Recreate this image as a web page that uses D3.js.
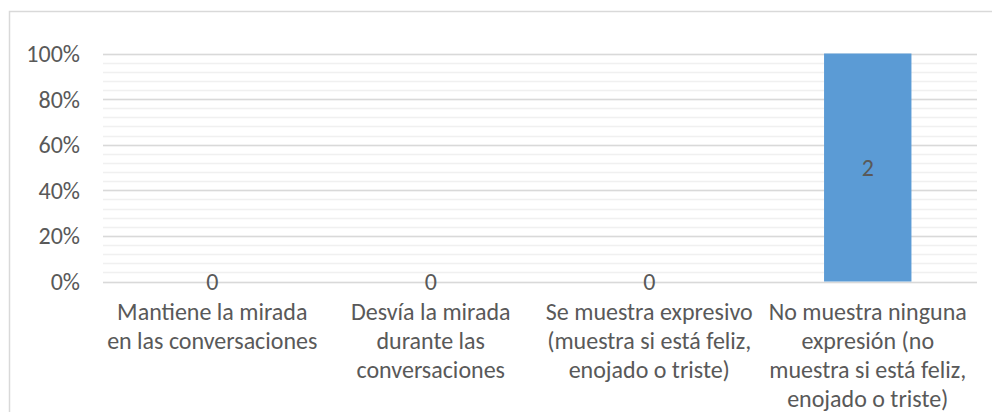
<!DOCTYPE html>
<html>
<head>
<meta charset="utf-8">
<script src="https://cdn.jsdelivr.net/npm/d3@7"></script>
<style>
  body { margin: 0; background: #fff; }
  text { font-family: Carlito, Calibri, Lato, sans-serif; fill: #595959; }
</style>
</head>
<body>
<div id="chart"></div>
<script>
// categories, each already split the way the reference wraps it
const categories = [
	["Mantiene la mirada", "en las conversaciones"],
	["Desvía la mirada", "durante las", "conversaciones"],
	["Se muestra expresivo", "(muestra si está feliz,", "enojado o triste)"],
	["No muestra ninguna", "expresión (no", "muestra si está feliz,", "enojado o triste)"]
];
const values = [0, 0, 0, 2];
const yTicks = [0, 0.2, 0.4, 0.6, 0.8, 1];
const minorTicks = d3.range(0, 1.0001, 0.04);

const width = 992, height = 412;
const margin = { left: 103, right: 15, top: 53.5, bottom: 130.5 };

const svg = d3.select("#chart")
	.append("svg")
	.attr("width", width)
	.attr("height", height);

// chart area border (cropped on right and bottom)
svg.append("rect")
	.attr("x", 9.5)
	.attr("y", 11.5)
	.attr("width", 1000)
	.attr("height", 500)
	.attr("fill", "none")
	.attr("stroke", "#d9d9d9")
	.attr("stroke-width", 1.5);

const x = d3.scaleBand()
	.domain(d3.range(categories.length))
	.range([margin.left, width - margin.right])
	.paddingInner(0.6)
	.paddingOuter(0.3);

const y = d3.scaleLinear()
	.domain([0, 1])
	.range([height - margin.bottom, margin.top]);

// 100% stacked: single series, share of category total
const pct = values.map(v => v > 0 ? v / v : 0);

const plotLeft = margin.left, plotRight = width - margin.right;

svg.append("g").selectAll("line")
	.data(minorTicks)
	.enter()
	.append("line")
	.attr("x1", plotLeft).attr("x2", plotRight)
	.attr("y1", d => Math.round(y(d)) + 0.5)
	.attr("y2", d => Math.round(y(d)) + 0.5)
	.attr("stroke", "#f0f0f0")
	.attr("stroke-width", 1.5);

svg.append("g").selectAll("line")
	.data(yTicks)
	.enter()
	.append("line")
	.attr("x1", plotLeft).attr("x2", plotRight)
	.attr("y1", d => Math.round(y(d)) + 0.5)
	.attr("y2", d => Math.round(y(d)) + 0.5)
	.attr("stroke", "#d9d9d9")
	.attr("stroke-width", 1.5);

svg.append("g").selectAll("text")
	.data(yTicks)
	.enter()
	.append("text")
	.attr("x", 80)
	.attr("y", d => y(d))
	.attr("dy", "0.35em")
	.attr("text-anchor", "end")
	.style("font-size", "24px")
	.text(d => d3.format(".0%")(d));

// bars
svg.append("g").selectAll("rect")
	.data(pct)
	.enter()
	.append("rect")
	.attr("x", (d, i) => x(i))
	.attr("width", x.bandwidth())
	.attr("y", d => y(d))
	.attr("height", d => y(0) - y(d))
	.attr("fill", "#5b9bd5");

// value labels
svg.append("g").selectAll("text")
	.data(values)
	.enter()
	.append("text")
	.attr("x", (d, i) => x(i) + x.bandwidth() / 2)
	.attr("y", (d, i) => y(pct[i] / 2))
	.attr("dy", "0.35em")
	.attr("text-anchor", "middle")
	.style("font-size", "24px")
	.text(d => d);

// category labels
const catG = svg.append("g").selectAll("text")
	.data(categories)
	.enter()
	.append("text")
	.attr("text-anchor", "middle")
	.style("font-size", "24px");

catG.selectAll("tspan")
	.data((d, i) => d.map(line => ({ line, i })))
	.enter()
	.append("tspan")
	.attr("x", d => x(d.i) + x.bandwidth() / 2)
	.attr("y", (d, j) => 312 + j * 29)
	.attr("dy", "0.35em")
	.text(d => d.line);
</script>
</body>
</html>
